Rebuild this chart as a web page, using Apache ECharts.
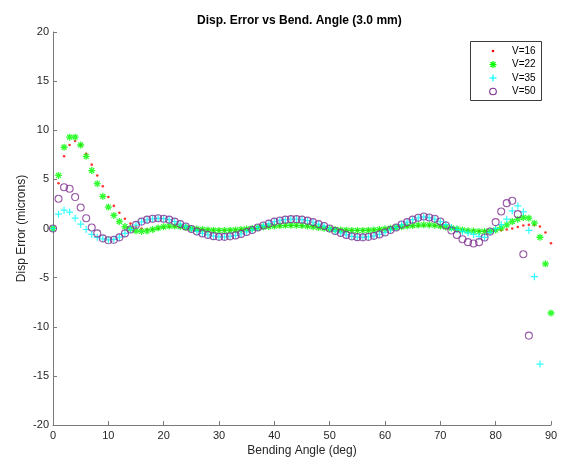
<!DOCTYPE html>
<html>
<head>
<meta charset="utf-8">
<script src="https://cdn.jsdelivr.net/npm/echarts@6/dist/echarts.min.js"></script>
<style>
html,body{margin:0;padding:0;background:#fff;}
#chart{width:563px;height:460px;}
</style>
</head>
<body>
<div id="chart"></div>
<script>
// Bending angle (deg)
const angles = [0,1,2,3,4,5,6,7,8,9,10,11,12,13,14,15,16,17,18,19,20,
  21,22,23,24,25,26,27,28,29,30,31,32,33,34,35,36,37,38,39,40,
  41,42,43,44,45,46,47,48,49,50,51,52,53,54,55,56,57,58,59,60,
  61,62,63,64,65,66,67,68,69,70,71,72,73,74,75,76,77,78,79,80,
  81,82,83,84,85,86,87,88,89,90];

const seriesNames = ['V=16', 'V=22', 'V=35', 'V=50'];

const v16 = [0, 4.6, 7.35, 8.5, 8.9, 8.5, 7.6, 6.5, 5.4, 4.3, 3.2, 2.3, 1.6, 1.0, 0.5, 0.2, 0.0, -0.1, -0.1, 0.0, 0.1,
  0.18, 0.2, 0.2, 0.15, 0.08, 0.0, -0.06, -0.1, -0.14, -0.16,
  -0.17, -0.16, -0.13, -0.09, -0.05, 0.0, 0.05, 0.1, 0.15, 0.2,
  0.23, 0.25, 0.27, 0.27, 0.25, 0.22, 0.17, 0.1, 0.04, -0.02,
  -0.07, -0.12, -0.15, -0.17, -0.18, -0.17, -0.15, -0.12, -0.08, -0.03,
  0.02, 0.08, 0.14, 0.2, 0.25, 0.28, 0.3, 0.3, 0.27, 0.22,
  0.14, 0.06, -0.02, -0.1, -0.17, -0.22, -0.25, -0.27, -0.27, -0.24,
  -0.18, -0.1, 0.0, 0.15, 0.3, 0.37, 0.35, 0.2, -0.4, -1.5];

const v22 = [0, 5.4, 8.27, 9.3, 9.3, 8.5, 7.35, 5.9, 4.56, 3.27, 2.18, 1.33, 0.71, 0.2, -0.03, -0.24, -0.3, -0.25, -0.1, 0.05, 0.18,
  0.25, 0.25, 0.2, 0.1, 0.0, -0.05, -0.1, -0.15, -0.18, -0.2,
  -0.2, -0.18, -0.15, -0.1, -0.05, 0.0, 0.08, 0.15, 0.2, 0.25,
  0.3, 0.32, 0.33, 0.32, 0.3, 0.25, 0.18, 0.1, 0.02, -0.05,
  -0.1, -0.15, -0.18, -0.2, -0.2, -0.2, -0.18, -0.14, -0.1, -0.04,
  0.03, 0.1, 0.17, 0.25, 0.3, 0.35, 0.37, 0.36, 0.32, 0.25,
  0.15, 0.05, -0.05, -0.15, -0.22, -0.26, -0.3, -0.3, -0.28, -0.15,
  0.05, 0.37, 0.71, 0.95, 1.12, 1.05, 0.54, -0.89, -3.6, -8.6];

const v35 = [0, 1.46, 1.87, 1.67, 1.05, 0.44, -0.1, -0.6, -0.9, -1.05, -1.15, -1.1, -0.88, -0.5,
  -0.1, 0.35, 0.68, 0.88, 0.98, 1.03, 1.0,
  0.9, 0.7, 0.45, 0.2, -0.05, -0.3, -0.5, -0.65, -0.78, -0.85,
  -0.85, -0.8, -0.7, -0.55, -0.35, -0.15, 0.1, 0.3, 0.5, 0.7,
  0.82, 0.9, 0.95, 0.95, 0.9, 0.8, 0.65, 0.45, 0.25, 0.0,
  -0.25, -0.45, -0.65, -0.8, -0.88, -0.9, -0.85, -0.75, -0.6, -0.4,
  -0.15, 0.1, 0.4, 0.65, 0.9, 1.08, 1.18, 1.1, 0.95, 0.7,
  0.4, 0.1, -0.1, -0.3, -0.45, -0.6, -0.8, -0.9, -0.4, 0.0,
  0.4, 0.95, 1.8, 2.3, 1.7, -0.2, -4.9, -13.8, null, null];

const v50 = [0, 3.03, 4.2, 4.05, 3.2, 2.14, 1.05, 0.1, -0.5, -1.0, -1.2, -1.15, -0.9, -0.5,
  -0.1, 0.37, 0.7, 0.9, 1.0, 1.05, 1.0,
  0.9, 0.7, 0.45, 0.2, -0.05, -0.3, -0.5, -0.65, -0.78, -0.85,
  -0.85, -0.8, -0.7, -0.55, -0.35, -0.15, 0.1, 0.3, 0.5, 0.7,
  0.82, 0.9, 0.95, 0.95, 0.9, 0.8, 0.65, 0.45, 0.25, 0.0,
  -0.25, -0.45, -0.65, -0.8, -0.88, -0.9, -0.85, -0.75, -0.6, -0.4,
  -0.15, 0.1, 0.4, 0.65, 0.9, 1.1, 1.22, 1.12, 0.99, 0.71,
  0.31, -0.2, -0.65, -1.09, -1.39, -1.53, -1.39, -0.92, -0.31, 0.65,
  1.73, 2.58, 2.82, 1.46, -2.62, -10.9, null, null, null, null];

const xTicks = [0, 10, 20, 30, 40, 50, 60, 70, 80, 90];
const yTicks = [-20, -15, -10, -5, 0, 5, 10, 15, 20];

function pairs(vals) {
  const out = [];
  for (let i = 0; i < angles.length; i++) {
    if (vals[i] !== null && vals[i] !== undefined) out.push([angles[i], vals[i]]);
  }
  return out;
}

const FONT = 'Liberation Sans, Arial, Helvetica, sans-serif';
const C16 = '#ff0000', C22 = '#00ff00', C35 = '#00ffff', C50 = '#7e2f8e';
const ASTER = 'path://M5,0L5,10M0,5L10,5M1.5,1.5L8.5,8.5M1.5,8.5L8.5,1.5';
const PLUS = 'path://M5,0L5,10M0,5L10,5';

const chart = echarts.init(document.getElementById('chart'), null, {renderer: 'canvas'});

const legX = 470.5, legY = 41.5, rowY = [51, 64.5, 78, 91.5], iconX = 493, textX = 512;

function seg(x1, y1, x2, y2, color, w) {
  return {type: 'line', shape: {x1: x1, y1: y1, x2: x2, y2: y2}, style: {stroke: color, lineWidth: w}, z: 101};
}

const legendGraphics = [
  {type: 'rect', shape: {x: legX, y: legY, width: 71, height: 59},
   style: {fill: '#fff', stroke: '#3c3c3c', lineWidth: 1}, z: 100},
  {type: 'circle', shape: {cx: iconX, cy: rowY[0], r: 1.3}, style: {fill: C16}, z: 101},
  seg(iconX, rowY[1] - 3.5, iconX, rowY[1] + 3.5, C22, 1.3),
  seg(iconX - 3.5, rowY[1], iconX + 3.5, rowY[1], C22, 1.3),
  seg(iconX - 2.5, rowY[1] - 2.5, iconX + 2.5, rowY[1] + 2.5, C22, 1.3),
  seg(iconX - 2.5, rowY[1] + 2.5, iconX + 2.5, rowY[1] - 2.5, C22, 1.3),
  seg(iconX, rowY[2] - 3.5, iconX, rowY[2] + 3.5, C35, 1.2),
  seg(iconX - 3.5, rowY[2], iconX + 3.5, rowY[2], C35, 1.2),
  {type: 'circle', shape: {cx: iconX, cy: rowY[3], r: 3.3},
   style: {fill: 'rgba(0,0,0,0)', stroke: C50, lineWidth: 1.1}, z: 101}
].concat(seriesNames.map((n, i) => ({
  type: 'text', x: textX, y: rowY[i], z: 101,
  style: {text: n, fontFamily: FONT, fontSize: 10, fill: '#000', verticalAlign: 'middle', align: 'left'}
})));

const option = {
  backgroundColor: '#fff',
  animation: false,
  title: {
    text: 'Disp. Error vs Bend. Angle (3.0 mm)',
    left: 197, top: 15, padding: 0,
    textStyle: {fontFamily: FONT, fontSize: 12, fontWeight: 'bold', color: '#000'}
  },
  grid: {left: 53, right: 12, top: 32, bottom: 35, containLabel: false, outerBoundsMode: 'none'},
  xAxis: {
    type: 'value', min: xTicks[0], max: xTicks[xTicks.length - 1], interval: 10,
    name: 'Bending Angle (deg)', nameLocation: 'middle', nameGap: 20, nameMoveOverlap: false,
    nameTextStyle: {fontFamily: FONT, fontSize: 12, color: '#262626'},
    axisLine: {show: true, onZero: false, lineStyle: {color: '#7a7a7a', width: 1}},
    axisTick: {show: true, inside: true, length: 4, lineStyle: {color: '#7a7a7a'}},
    axisLabel: {margin: 5, fontFamily: FONT, fontSize: 11, color: '#262626'},
    splitLine: {show: false}
  },
  yAxis: {
    type: 'value', min: yTicks[0], max: yTicks[yTicks.length - 1], interval: 5,
    name: 'Disp Error (microns)', nameLocation: 'middle', nameGap: 25, nameMoveOverlap: false,
    nameTextStyle: {fontFamily: FONT, fontSize: 12, color: '#262626'},
    axisLine: {show: true, onZero: false, lineStyle: {color: '#7a7a7a', width: 1}},
    axisTick: {show: true, inside: true, length: 4, lineStyle: {color: '#7a7a7a'}},
    axisLabel: {margin: 4, fontFamily: FONT, fontSize: 11, color: '#262626'},
    splitLine: {show: false}
  },
  series: [
    {name: seriesNames[0], type: 'scatter', data: pairs(v16), symbol: 'circle', symbolSize: 2.6,
     itemStyle: {color: C16}},
    {name: seriesNames[1], type: 'scatter', data: pairs(v22), symbol: ASTER, symbolSize: 7,
     itemStyle: {color: C22, borderColor: C22, borderWidth: 1.3}},
    {name: seriesNames[2], type: 'scatter', data: pairs(v35), symbol: PLUS, symbolSize: 7,
     itemStyle: {color: C35, borderColor: C35, borderWidth: 1.2}},
    {name: seriesNames[3], type: 'scatter', data: pairs(v50), symbol: 'circle', symbolSize: 7,
     itemStyle: {color: 'rgba(0,0,0,0)', borderColor: C50, borderWidth: 1.1}}
  ],
  graphic: legendGraphics
};

chart.setOption(option);
</script>
</body>
</html>
